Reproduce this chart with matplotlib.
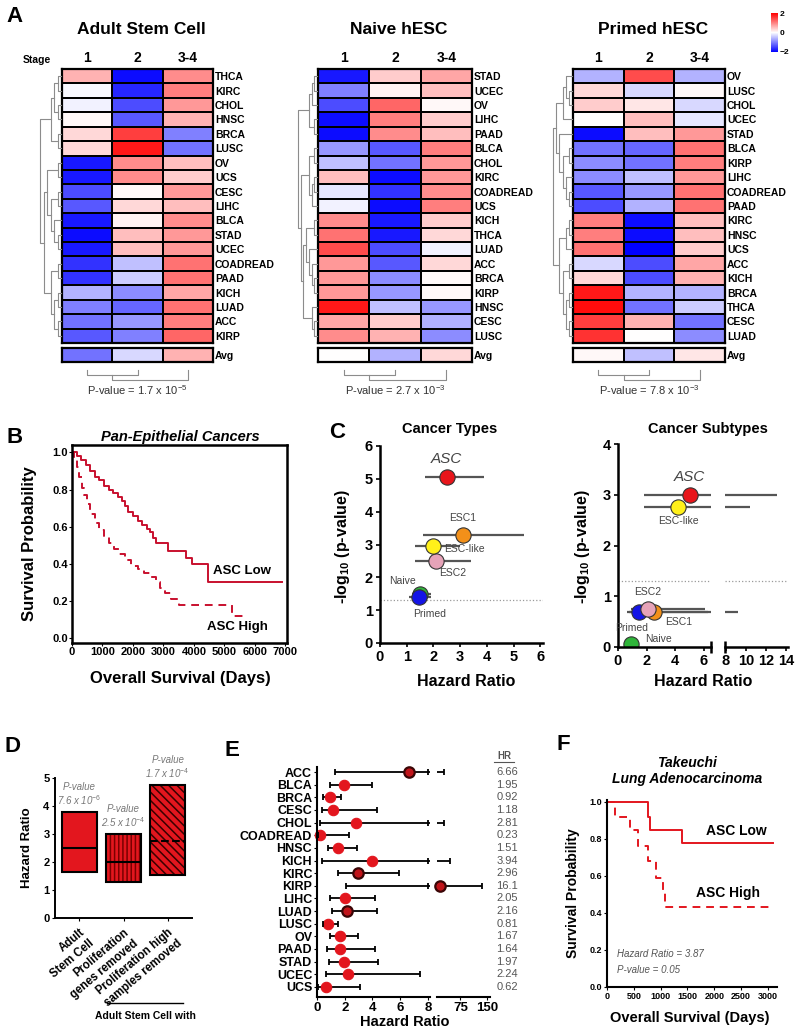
import numpy as np
import matplotlib
matplotlib.use('Agg')
import matplotlib.pyplot as plt
from matplotlib.lines import Line2D

plt.rcParams['font.family'] = ['Liberation Sans', 'DejaVu Sans']
plt.rcParams['mathtext.fontset'] = 'custom'
plt.rcParams['mathtext.rm'] = 'Liberation Sans'
plt.rcParams['mathtext.it'] = 'Liberation Sans:italic'
plt.rcParams['mathtext.bf'] = 'Liberation Sans:bold'
plt.rcParams['hatch.linewidth'] = 1.1

# ---------------- data ----------------
stages = ['1', '2', '3-4']

asc_rows = ['THCA', 'KIRC', 'CHOL', 'HNSC', 'BRCA', 'LUSC', 'OV', 'UCS', 'CESC', 'LIHC',
            'BLCA', 'STAD', 'UCEC', 'COADREAD', 'PAAD', 'KICH', 'LUAD', 'ACC', 'KIRP']
asc_vals = [[0.6, -1.9, 0.9], [-0.05, -1.7, 1.0], [-0.1, -1.4, 0.8], [0.05, -1.3, 0.6],
            [0.3, 1.5, -1.0], [0.3, 1.8, -1.1], [-1.8, 0.9, 0.5], [-1.8, 0.9, 0.4],
            [-1.4, 0.05, 0.8], [-1.3, 0.3, 0.5], [-1.8, 0.1, 0.9], [-1.9, 0.5, 0.8],
            [-1.8, 0.5, 0.8], [-1.6, -0.5, 1.1], [-1.6, -0.4, 1.1], [-0.6, -0.9, 0.7],
            [-1.0, -1.2, 1.1], [-1.1, -0.8, 1.0], [-1.3, -1.0, 1.2]]
asc_avg = [-1.1, -0.3, 0.6]
asc_tree = ((((0, 1), (2, 3)), (4, 5)),
            (((6, 7), ((8, 9), (10, (11, 12)))), ((13, 14), ((15, 16), (17, 18)))))

naive_rows = ['STAD', 'UCEC', 'OV', 'LIHC', 'PAAD', 'BLCA', 'CHOL', 'KIRC', 'COADREAD', 'UCS',
              'KICH', 'THCA', 'LUAD', 'ACC', 'BRCA', 'KIRP', 'HNSC', 'CESC', 'LUSC']
naive_vals = [[-1.8, 0.4, 0.7], [-1.0, 0.1, 0.5], [-1.4, 1.2, 0.05], [-1.9, 1.0, 0.4],
              [-1.9, 0.9, 0.5], [-0.8, -1.3, 1.0], [-0.5, -1.1, 0.8], [0.5, -1.9, 0.8],
              [-0.2, -1.6, 0.9], [-0.1, -1.9, 1.0], [0.9, -1.8, 0.4], [1.1, -1.8, 0.3],
              [1.4, -1.4, -0.1], [0.8, -1.3, 0.3], [0.8, -0.9, 0.05], [0.8, -0.8, 0.05],
              [1.8, -0.5, -0.8], [0.7, 0.4, -0.6], [0.9, 0.6, -0.9]]
naive_avg = [0.0, -0.6, 0.3]
naive_tree = ((((0, 1), 2), (3, 4)),
              (((5, 6), ((7, 8), 9)), (((10, 11), (12, (13, (14, 15)))), (16, (17, 18)))))

primed_rows = ['OV', 'LUSC', 'CHOL', 'UCEC', 'STAD', 'BLCA', 'KIRP', 'LIHC', 'COADREAD', 'PAAD',
               'KIRC', 'HNSC', 'UCS', 'ACC', 'KICH', 'BRCA', 'THCA', 'CESC', 'LUAD']
primed_vals = [[-0.6, 1.4, -0.6], [0.3, -0.3, 0.05], [0.4, 0.2, -0.3], [0.0, 0.5, -0.2],
               [-1.9, 0.5, 0.8], [-1.1, -1.2, 1.1], [-0.9, -1.1, 1.0], [-0.9, -0.5, 0.8],
               [-1.3, -0.8, 1.1], [-1.4, -0.6, 1.1], [1.0, -1.9, 0.5], [1.0, -1.9, 0.5],
               [1.1, -2.0, 0.4], [-0.3, -1.4, 0.7], [0.3, -1.4, 0.6], [1.8, -0.6, -0.6],
               [1.9, -1.1, -0.4], [1.5, 0.6, -1.1], [1.6, 0.0, -0.9]]
primed_avg = [0.05, -0.5, 0.2]
primed_tree = ((((0, (1, 2)), 3), (4, ((5, 6), (7, (8, 9))))),
               (((10, 11), 12), ((13, 14), ((15, 16), (17, 18)))))

stage_tree = ((0, 1), 2)
pvals_A = ['P-value = 1.7 x 10$^{-5}$', 'P-value = 2.7 x 10$^{-3}$', 'P-value = 7.8 x 10$^{-3}$']

# B: pan-epithelial Kaplan-Meier
b_low_days = [0, 150, 300, 450, 600, 750, 900, 1050, 1200, 1350, 1500, 1650, 1750, 1850, 2000,
              2150, 2300, 2450, 2550, 2650, 2750, 3150, 3750, 3950, 4450, 6900]
b_low_surv = [1.00, 0.98, 0.96, 0.93, 0.90, 0.87, 0.85, 0.82, 0.80, 0.78, 0.76, 0.74, 0.71, 0.68,
              0.66, 0.63, 0.61, 0.59, 0.57, 0.54, 0.51, 0.47, 0.43, 0.40, 0.30, 0.30]
b_high_days = [0, 80, 160, 240, 320, 400, 500, 600, 750, 900, 1050, 1200, 1370, 1550, 1750, 1950,
               2150, 2350, 2550, 2750, 2900, 3050, 3250, 3500, 5250, 5600]
b_high_surv = [1.00, 0.96, 0.92, 0.87, 0.81, 0.77, 0.72, 0.67, 0.62, 0.58, 0.55, 0.51, 0.48, 0.45,
               0.42, 0.39, 0.37, 0.35, 0.33, 0.30, 0.27, 0.24, 0.21, 0.18, 0.12, 0.12]

# C: volcano-like hazard plots
ct_names = ['Naive', 'Primed', 'ESC2', 'ESC-like', 'ESC1', 'ASC']
ct_hr = [1.5, 1.45, 2.1, 2.0, 3.1, 2.5]
ct_lo = [1.2, 1.1, 1.3, 1.3, 1.6, 1.7]
ct_hi = [1.9, 1.9, 3.4, 3.0, 5.4, 3.9]
ct_logp = [1.5, 1.4, 2.5, 2.95, 3.3, 5.05]

cs_names = ['Naive', 'Primed', 'ESC1', 'ESC2', 'ESC-like', 'ASC']
cs_hr = [0.9, 1.5, 2.5, 2.1, 4.2, 5.0]
cs_lo = [0.6, 0.6, 0.8, 0.9, 1.8, 1.8]
cs_hi = [1.3, 9.2, 6.3, 6.1, 10.4, 13.1]
cs_logp = [0.05, 0.68, 0.68, 0.75, 2.75, 3.0]
sig_line = -np.log10(0.05)

# D: hazard ratio boxes
d_labels = ['Adult\nStem Cell', 'Proliferation\ngenes removed', 'Proliferation high\nsamples removed']
d_lo = [1.65, 1.3, 1.55]
d_hi = [3.8, 3.0, 4.75]
d_mid = [2.5, 2.0, 2.75]
d_pval = ['7.6 x 10$^{-6}$', '2.5 x 10$^{-4}$', '1.7 x 10$^{-4}$']

# E: forest plot
e_types = ['ACC', 'BLCA', 'BRCA', 'CESC', 'CHOL', 'COADREAD', 'HNSC', 'KICH', 'KIRC', 'KIRP',
           'LIHC', 'LUAD', 'LUSC', 'OV', 'PAAD', 'STAD', 'UCEC', 'UCS']
e_hr = [6.66, 1.95, 0.92, 1.18, 2.81, 0.23, 1.51, 3.94, 2.96, 16.1,
        2.05, 2.16, 0.81, 1.67, 1.64, 1.97, 2.24, 0.62]
e_lo = [1.3, 0.95, 0.45, 0.35, 0.25, 0.05, 0.8, 0.35, 1.55, 2.1,
        0.95, 1.1, 0.4, 0.95, 0.7, 0.85, 0.65, 0.05]
e_hi = [30, 4.0, 1.75, 4.3, 30, 2.3, 2.85, 45, 5.9, 135,
        4.15, 4.3, 1.55, 2.95, 4.15, 4.4, 7.4, 3.1]
e_sig = [True, False, False, False, False, False, False, False, True, True,
         False, True, False, False, False, False, False, False]

# F: Takeuchi Kaplan-Meier
f_low_days = [0, 770, 810, 1400, 3100]
f_low_surv = [1.0, 0.92, 0.85, 0.78, 0.78]
f_high_days = [0, 145, 420, 580, 765, 920, 1045, 1080, 3030]
f_high_surv = [1.0, 0.92, 0.85, 0.76, 0.68, 0.59, 0.51, 0.43, 0.43]

# ---------------- layout helpers ----------------
W, H = 800, 1033
fig = plt.figure(figsize=(8, 10.33), dpi=100)
RED = '#e3161e'
KM_RED = '#c8102e'


def box(l, t, r, b):
    return [l / W, 1 - b / H, (r - l) / W, (b - t) / H]


def ftext(x, y, s, **kw):
    kw.setdefault('ha', 'center')
    kw.setdefault('va', 'center')
    return fig.text(x / W, 1 - y / H, s, **kw)


def bold_ticks(ax):
    for lab in ax.get_xticklabels() + ax.get_yticklabels():
        lab.set_fontweight('bold')


def draw_tree(ax, node, horizontal=True):
    if isinstance(node, int):
        return node + 0.5, 0
    p1, h1 = draw_tree(ax, node[0], horizontal)
    p2, h2 = draw_tree(ax, node[1], horizontal)
    h = max(h1, h2) + 1
    xs, ys = [h1, h, h, h2], [p1, p1, p2, p2]
    if not horizontal:
        xs, ys = ys, xs
    ax.plot(xs, ys, color='#8c8c8c', lw=0.8, clip_on=False)
    return (p1 + p2) / 2, h


# ---------------- A ----------------
def heatmap(x0, x1, root, title, rows, vals, avg, tree, pval):
    t, b = 69, 343
    ax = fig.add_axes(box(x0, t, x1, b))
    mesh = ax.pcolormesh(np.array(vals), cmap='bwr', vmin=-2, vmax=2,
                         edgecolors='black', linewidth=1.4)
    ax.set_xlim(0, 3)
    ax.set_ylim(len(rows), 0)
    ax.set_xticks(np.arange(3) + 0.5, stages, fontsize=10)
    ax.xaxis.tick_top()
    ax.set_yticks(np.arange(len(rows)) + 0.5, rows, fontsize=7.5)
    ax.yaxis.tick_right()
    ax.tick_params(length=0, pad=1.5)
    ax.tick_params(axis='x', pad=3)
    bold_ticks(ax)
    for s in ax.spines.values():
        s.set_linewidth(1.6)

    av = fig.add_axes(box(x0, 348, x1, 362))
    av.pcolormesh(np.array([avg]), cmap='bwr', vmin=-2, vmax=2,
                  edgecolors='black', linewidth=1.4)
    av.set_xlim(0, 3)
    av.set_xticks([])
    av.set_yticks([0.5], ['Avg'], fontsize=7.5)
    av.yaxis.tick_right()
    av.tick_params(length=0, pad=1.5)
    bold_ticks(av)
    for s in av.spines.values():
        s.set_linewidth(1.6)

    dax = fig.add_axes(box(root, t, x0 - 1, b))
    _, hmax = draw_tree(dax, tree)
    dax.set_ylim(len(rows), 0)
    dax.set_xlim(hmax, 0)
    dax.axis('off')

    cax = fig.add_axes(box(x0, 367, x1, 380))
    _, hc = draw_tree(cax, stage_tree, horizontal=False)
    cax.set_xlim(0, 3)
    cax.set_ylim(hc + 0.05, -0.6)
    cax.axis('off')

    cx = (x0 + x1) / 2
    ftext(cx + 4, 30, title, fontsize=12.5, fontweight='bold')
    ftext(cx, 390, pval, fontsize=8, color='#333333')
    return mesh


heatmap(62, 213, 40, 'Adult Stem Cell', asc_rows, asc_vals, asc_avg, asc_tree, pvals_A[0])
heatmap(318, 472, 298, 'Naive hESC', naive_rows, naive_vals, naive_avg, naive_tree, pvals_A[1])
mesh = heatmap(573, 725, 553, 'Primed hESC', primed_rows, primed_vals, primed_avg,
               primed_tree, pvals_A[2])
ftext(37, 60, 'Stage', fontsize=7.5, fontweight='bold')

cbax = fig.add_axes(box(771, 13, 778, 52))
cb = fig.colorbar(mesh, cax=cbax, ticks=[-2, 0, 2])
cb.outline.set_visible(False)
cb.ax.tick_params(labelsize=6, length=0, pad=1)
bold_ticks(cb.ax)

# ---------------- B ----------------
axB = fig.add_axes(box(72, 445, 287, 643))
axB.plot(b_low_days, b_low_surv, drawstyle='steps-post', color=KM_RED, lw=1.4)
axB.plot(b_high_days, b_high_surv, drawstyle='steps-post', color=KM_RED, lw=1.4,
         ls=(0, (4, 3)))
axB.set_xlim(0, 7050)
axB.set_ylim(-0.027, 1.04)
axB.set_xticks(range(0, 7001, 1000))
axB.set_yticks(np.arange(0, 1.01, 0.2), [f'{v:.1f}' for v in np.arange(0, 1.01, 0.2)])
axB.tick_params(labelsize=8, length=2, pad=1)
bold_ticks(axB)
for s in axB.spines.values():
    s.set_linewidth(1.8)
axB.text(5580, 0.36, 'ASC Low', ha='center', va='center', fontsize=9.5, fontweight='bold')
axB.text(5410, 0.06, 'ASC High', ha='center', va='center', fontsize=9.5, fontweight='bold')
ftext(180, 437, 'Pan-Epithelial Cancers', fontsize=10.5, fontweight='bold', style='italic')
ftext(30, 544, 'Survival Probability', fontsize=12, fontweight='bold', rotation=90)
ftext(180, 678, 'Overall Survival (Days)', fontsize=12, fontweight='bold')

# ---------------- C ----------------
c_colors = {'ASC': '#e8151b', 'ESC1': '#f39019', 'ESC-like': '#fff01a', 'ESC2': '#e6a3b8',
            'Naive': '#2fb53a', 'Primed': '#1414e6'}
ct_offsets = {'ASC': (0, 13), 'ESC1': (0, 12), 'ESC-like': (22, -2), 'ESC2': (12, -9),
              'Naive': (-13, 9), 'Primed': (8, -12)}
cs_offsets = {'ASC': (0, 13), 'ESC-like': (0, -10), 'ESC2': (0, 12), 'ESC1': (18, -7),
              'Primed': (-6, -11), 'Naive': (20, 4)}


def hazard_points(ax, names, hr, lo, hi, logp, offsets, labels=True):
    ax.axhline(sig_line, color='#9a9a9a', lw=0.9, ls=':')
    ax.hlines(logp, lo, hi, color='#555555', lw=1.6)
    for n, x, y in zip(names, hr, logp):
        ax.plot(x, y, 'o', ms=11, mfc=c_colors[n], mec='#333333', mew=0.8)
        if labels:
            asc = n == 'ASC'
            ax.annotate(n, (x, y), xytext=offsets[n], textcoords='offset points',
                        ha='center', va='center', color='#444444',
                        fontsize=11 if asc else 7.5, style='italic' if asc else 'normal',
                        annotation_clip=False)


axC1 = fig.add_axes(box(380, 446, 543, 643))
hazard_points(axC1, ct_names, ct_hr, ct_lo, ct_hi, ct_logp, ct_offsets)
axC1.set_xlim(0, 6.1)
axC1.set_ylim(0, 6)
axC1.set_xticks(range(7))
axC1.set_yticks(range(7))

axC2 = fig.add_axes(box(618, 444, 711, 647))
axC3 = fig.add_axes(box(725, 444, 788, 647))
hazard_points(axC2, cs_names, cs_hr, cs_lo, cs_hi, cs_logp, cs_offsets)
hazard_points(axC3, cs_names, cs_hr, cs_lo, cs_hi, cs_logp, cs_offsets, labels=False)
axC2.set_xlim(0, 6.5)
axC3.set_xlim(7.9, 14.2)
axC2.set_ylim(0, 4)
axC3.set_ylim(0, 4)
axC2.set_xticks([0, 2, 4, 6])
axC2.set_yticks(range(5))
axC3.set_xticks([8, 10, 12, 14])
axC3.set_yticks([])
axC3.spines['left'].set_visible(False)
axC2.plot([1], [0], marker='|', ms=9, mew=1.8, color='k', transform=axC2.transAxes, clip_on=False)
axC3.plot([0], [0], marker='|', ms=9, mew=1.8, color='k', transform=axC3.transAxes, clip_on=False)

for a in (axC1, axC2, axC3):
    for s in ('top', 'right'):
        a.spines[s].set_visible(False)
    for s in ('left', 'bottom'):
        a.spines[s].set_linewidth(1.8)
    a.tick_params(labelsize=10.5, length=3, width=1.2, pad=2)
    bold_ticks(a)

ftext(450, 429, 'Cancer Types', fontsize=10.5, fontweight='bold')
ftext(708, 429, 'Cancer Subtypes', fontsize=10.5, fontweight='bold')
ftext(343, 547, r'-log$_{\mathbf{10}}$ (p-value)', fontsize=11.5, fontweight='bold', rotation=90)
ftext(582, 547, r'-log$_{\mathbf{10}}$ (p-value)', fontsize=11.5, fontweight='bold', rotation=90)
ftext(466, 681, 'Hazard Ratio', fontsize=11.5, fontweight='bold')
ftext(703, 681, 'Hazard Ratio', fontsize=11.5, fontweight='bold')

# ---------------- D ----------------
axD = fig.add_axes(box(55, 778, 192, 918))
xd = np.arange(len(d_labels))
heights = np.array(d_hi) - np.array(d_lo)
hatches = [None, '||||', '\\\\\\\\']
hatch_cols = ['#e3161e', '#7a0000', '#3a0000']
for i in xd:
    axD.bar(i, heights[i], bottom=d_lo[i], width=0.8, color=RED, edgecolor=hatch_cols[i],
            hatch=hatches[i], lw=0)
    axD.bar(i, heights[i], bottom=d_lo[i], width=0.8, fill=False, edgecolor='black', lw=1.5)
    axD.hlines(d_mid[i], i - 0.4, i + 0.4, color='black', lw=1.5,
               linestyles='dashed' if i == 2 else 'solid')
    axD.text(i, d_hi[i] + 0.18, 'P-value\n' + d_pval[i], ha='center', va='bottom',
             fontsize=7, style='italic', color='#777777', linespacing=1.1)
axD.set_xlim(-0.55, 2.55)
axD.set_ylim(0, 5)
axD.set_yticks(range(6))
axD.set_xticks(xd, d_labels, rotation=40, ha='right', rotation_mode='anchor',
               fontsize=8.3, linespacing=1.25)
axD.tick_params(labelsize=8, length=2, pad=2)
axD.tick_params(axis='x', pad=4, labelsize=8.3)
bold_ticks(axD)
for s in ('top', 'right'):
    axD.spines[s].set_visible(False)
for s in ('left', 'bottom'):
    axD.spines[s].set_linewidth(1.4)
axD.plot([0.38, 0.934], [-0.607, -0.607], transform=axD.transAxes, clip_on=False,
         color='black', lw=1)
axD.text(0.66, -0.7, 'Adult Stem Cell with', transform=axD.transAxes, ha='center',
         va='center', fontsize=7.5, fontweight='bold')
ftext(27, 848, 'Hazard Ratio', fontsize=9.5, fontweight='bold', rotation=90)

# ---------------- E ----------------
ye = np.arange(len(e_types))
axE = fig.add_axes(box(317, 767, 430, 997))
axE2 = fig.add_axes(box(437, 767, 490, 997))
for a, lim in ((axE, (0, 8.15)), (axE2, (9, 158))):
    a.hlines(ye, e_lo, e_hi, color='black', lw=1.3)
    a.set_xlim(*lim)
    a.set_ylim(len(e_types) - 0.2, -0.4)
    for x, y, s in zip(e_hr, ye, e_sig):
        if lim[0] <= x <= lim[1]:
            a.plot(x, y, 'o', ms=7.5, mfc=RED if not s else '#c0141a',
                   mec='#3a0606' if s else RED, mew=1.6 if s else 0.8, clip_on=False)
    for s in ('top', 'right'):
        a.spines[s].set_visible(False)
    a.spines['bottom'].set_linewidth(1.5)
    a.tick_params(labelsize=9.5, length=2, pad=1.5)

caps_lo = [v for v in e_lo]
caps_hi = [min(v, 8) for v in e_hi]
axE.plot(caps_lo, ye, '|', ms=5, mew=1.3, color='black')
axE.plot(caps_hi, ye, '|', ms=5, mew=1.3, color='black')
far = [i for i, v in enumerate(e_hi) if v > 8]
axE2.plot([e_hi[i] for i in far], far, '|', ms=5, mew=1.3, color='black')
axE.set_xticks([0, 2, 4, 6, 8])
axE.set_yticks(ye, e_types, fontsize=9)
axE.spines['left'].set_linewidth(1.5)
axE2.set_xticks([75, 150])
axE2.set_yticks([])
axE2.spines['left'].set_visible(False)
bold_ticks(axE)
bold_ticks(axE2)
for y, v in zip(ye, e_hr):
    axE2.annotate(f'{v:g}', (1.32, y),
                  xycoords=('axes fraction', 'data'), ha='center', va='center',
                  fontsize=8, color='#555555', annotation_clip=False)
ftext(504, 756, 'HR', fontsize=7, fontweight='bold', color='#555555')
fig.add_artist(Line2D([494 / W, 514 / W], [1 - 762 / H, 1 - 762 / H], color='#555555', lw=0.8))
ftext(405, 1022, 'Hazard Ratio', fontsize=10.5, fontweight='bold')

# ---------------- F ----------------
axF = fig.add_axes(box(607, 800, 777, 987))
axF.plot(f_low_days, f_low_surv, drawstyle='steps-post', color=RED, lw=1.4)
axF.plot(f_high_days, f_high_surv, drawstyle='steps-post', color=RED, lw=1.4, ls=(0, (4, 3)))
axF.set_xlim(0, 3170)
axF.set_ylim(0, 1.01)
axF.set_xticks(range(0, 3001, 500))
axF.set_yticks(np.arange(0, 1.01, 0.2), [f'{v:.1f}' for v in np.arange(0, 1.01, 0.2)])
axF.tick_params(labelsize=6.5, length=2, pad=1.5)
bold_ticks(axF)
for s in ('top', 'right'):
    axF.spines[s].set_visible(False)
for s in ('left', 'bottom'):
    axF.spines[s].set_linewidth(1.5)
axF.text(2410, 0.84, 'ASC Low', ha='center', va='center', fontsize=10, fontweight='bold')
axF.text(2255, 0.505, 'ASC High', ha='center', va='center', fontsize=10, fontweight='bold')
axF.text(180, 0.177, 'Hazard Ratio = 3.87', fontsize=7, style='italic', color='#555555',
         va='center')
axF.text(180, 0.09, 'P-value = 0.05', fontsize=7, style='italic', color='#555555', va='center')
ftext(687, 763, 'Takeuchi', fontsize=10, fontweight='bold', style='italic')
ftext(687, 779, 'Lung Adenocarcinoma', fontsize=10, fontweight='bold', style='italic')
ftext(573, 893, 'Survival Probability', fontsize=10, fontweight='bold', rotation=90)
ftext(690, 1018, 'Overall Survival (Days)', fontsize=10.5, fontweight='bold')

# panel letters
for letter, x, y in (('A', 14, 17), ('B', 15, 437), ('C', 337, 432), ('D', 13, 746),
                     ('E', 232, 750), ('F', 563, 745)):
    ftext(x, y, letter, fontsize=16, fontweight='bold')

fig.savefig('out.png', dpi=100)
